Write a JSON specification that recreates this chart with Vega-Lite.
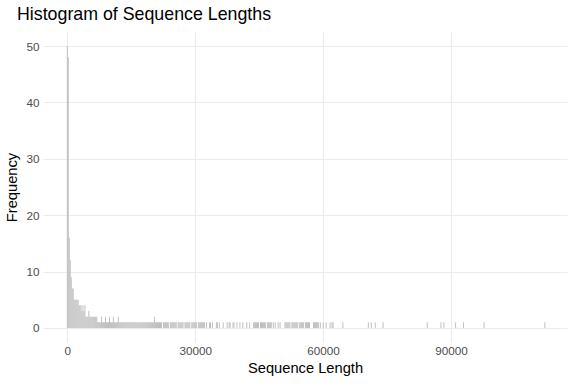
{
  "$schema": "https://vega.github.io/schema/vega-lite/v6.json",
  "width": 524,
  "height": 310,
  "autosize": {"type": "none"},
  "padding": {"left": 43, "top": 32, "right": 9, "bottom": 42},
  "background": "white",
  "config": {
    "font": "Liberation Sans",
    "view": {"stroke": null},
    "axis": {
      "domain": false,
      "ticks": false,
      "gridColor": "#EBEBEB",
      "labelColor": "#4D4D4D",
      "labelFontSize": 11.7,
      "titleFontSize": 14.7,
      "titleFontWeight": "normal",
      "titleColor": "#000000"
    }
  },
  "title": {
    "text": "Histogram of Sequence Lengths",
    "anchor": "start",
    "frame": "group",
    "fontSize": 17.8,
    "fontWeight": "normal",
    "color": "#000000",
    "baseline": "alphabetic",
    "dx": -26,
    "offset": -6
  },
  "data": {
    "values": [
      {"bin_start": -115, "bin_end": 115, "count": 50},
      {"bin_start": 115, "bin_end": 345, "count": 48},
      {"bin_start": 345, "bin_end": 575, "count": 16},
      {"bin_start": 575, "bin_end": 805, "count": 12},
      {"bin_start": 805, "bin_end": 1035, "count": 9},
      {"bin_start": 1035, "bin_end": 1265, "count": 7},
      {"bin_start": 1265, "bin_end": 1495, "count": 7},
      {"bin_start": 1495, "bin_end": 1725, "count": 5},
      {"bin_start": 1725, "bin_end": 1955, "count": 5},
      {"bin_start": 1955, "bin_end": 2185, "count": 5},
      {"bin_start": 2185, "bin_end": 2415, "count": 5},
      {"bin_start": 2415, "bin_end": 2645, "count": 5},
      {"bin_start": 2645, "bin_end": 2875, "count": 4},
      {"bin_start": 2875, "bin_end": 3105, "count": 4},
      {"bin_start": 3105, "bin_end": 3335, "count": 4},
      {"bin_start": 3335, "bin_end": 3565, "count": 3},
      {"bin_start": 3565, "bin_end": 3795, "count": 4},
      {"bin_start": 3795, "bin_end": 4025, "count": 3},
      {"bin_start": 4025, "bin_end": 4255, "count": 4},
      {"bin_start": 4255, "bin_end": 4485, "count": 2},
      {"bin_start": 4485, "bin_end": 4715, "count": 2},
      {"bin_start": 4715, "bin_end": 4945, "count": 2},
      {"bin_start": 4945, "bin_end": 5175, "count": 3},
      {"bin_start": 5175, "bin_end": 5405, "count": 2},
      {"bin_start": 5405, "bin_end": 5635, "count": 2},
      {"bin_start": 5635, "bin_end": 5865, "count": 2},
      {"bin_start": 5865, "bin_end": 6095, "count": 2},
      {"bin_start": 6095, "bin_end": 6325, "count": 2},
      {"bin_start": 6325, "bin_end": 6555, "count": 2},
      {"bin_start": 6555, "bin_end": 6785, "count": 2},
      {"bin_start": 6785, "bin_end": 7015, "count": 2},
      {"bin_start": 7015, "bin_end": 7245, "count": 1},
      {"bin_start": 7245, "bin_end": 7475, "count": 1},
      {"bin_start": 7475, "bin_end": 7705, "count": 1},
      {"bin_start": 7705, "bin_end": 7935, "count": 1},
      {"bin_start": 7935, "bin_end": 8165, "count": 2},
      {"bin_start": 8165, "bin_end": 8395, "count": 1},
      {"bin_start": 8395, "bin_end": 8625, "count": 1},
      {"bin_start": 8625, "bin_end": 8855, "count": 1},
      {"bin_start": 8855, "bin_end": 9085, "count": 2},
      {"bin_start": 9085, "bin_end": 9315, "count": 1},
      {"bin_start": 9315, "bin_end": 9545, "count": 1},
      {"bin_start": 9545, "bin_end": 9775, "count": 1},
      {"bin_start": 9775, "bin_end": 10005, "count": 2},
      {"bin_start": 10005, "bin_end": 10235, "count": 1},
      {"bin_start": 10235, "bin_end": 10465, "count": 1},
      {"bin_start": 10465, "bin_end": 10695, "count": 1},
      {"bin_start": 10695, "bin_end": 10925, "count": 2},
      {"bin_start": 10925, "bin_end": 11155, "count": 1},
      {"bin_start": 11155, "bin_end": 11385, "count": 1},
      {"bin_start": 11385, "bin_end": 11615, "count": 1},
      {"bin_start": 11615, "bin_end": 11845, "count": 1},
      {"bin_start": 11845, "bin_end": 12075, "count": 2},
      {"bin_start": 12075, "bin_end": 12305, "count": 1},
      {"bin_start": 12305, "bin_end": 12535, "count": 1},
      {"bin_start": 12535, "bin_end": 12765, "count": 1},
      {"bin_start": 12765, "bin_end": 12995, "count": 1},
      {"bin_start": 12995, "bin_end": 13225, "count": 1},
      {"bin_start": 13225, "bin_end": 13455, "count": 1},
      {"bin_start": 13455, "bin_end": 13685, "count": 1},
      {"bin_start": 13685, "bin_end": 13915, "count": 1},
      {"bin_start": 13915, "bin_end": 14145, "count": 1},
      {"bin_start": 14145, "bin_end": 14375, "count": 1},
      {"bin_start": 14375, "bin_end": 14605, "count": 1},
      {"bin_start": 14605, "bin_end": 14835, "count": 1},
      {"bin_start": 14835, "bin_end": 15065, "count": 1},
      {"bin_start": 15065, "bin_end": 15295, "count": 1},
      {"bin_start": 15295, "bin_end": 15525, "count": 1},
      {"bin_start": 15525, "bin_end": 15755, "count": 1},
      {"bin_start": 15755, "bin_end": 15985, "count": 1},
      {"bin_start": 15985, "bin_end": 16215, "count": 1},
      {"bin_start": 16215, "bin_end": 16445, "count": 1},
      {"bin_start": 16445, "bin_end": 16675, "count": 1},
      {"bin_start": 16675, "bin_end": 16905, "count": 1},
      {"bin_start": 16905, "bin_end": 17135, "count": 1},
      {"bin_start": 17135, "bin_end": 17365, "count": 1},
      {"bin_start": 17365, "bin_end": 17595, "count": 1},
      {"bin_start": 17595, "bin_end": 17825, "count": 1},
      {"bin_start": 17825, "bin_end": 18055, "count": 1},
      {"bin_start": 18055, "bin_end": 18285, "count": 1},
      {"bin_start": 18285, "bin_end": 18515, "count": 1},
      {"bin_start": 18515, "bin_end": 18745, "count": 1},
      {"bin_start": 18745, "bin_end": 18975, "count": 1},
      {"bin_start": 18975, "bin_end": 19205, "count": 1},
      {"bin_start": 19205, "bin_end": 19435, "count": 1},
      {"bin_start": 19435, "bin_end": 19665, "count": 1},
      {"bin_start": 19665, "bin_end": 19895, "count": 1},
      {"bin_start": 19895, "bin_end": 20125, "count": 1},
      {"bin_start": 20125, "bin_end": 20355, "count": 1},
      {"bin_start": 20355, "bin_end": 20585, "count": 2},
      {"bin_start": 20585, "bin_end": 20815, "count": 1},
      {"bin_start": 20815, "bin_end": 21045, "count": 1},
      {"bin_start": 21045, "bin_end": 21275, "count": 1},
      {"bin_start": 21275, "bin_end": 21505, "count": 1},
      {"bin_start": 21505, "bin_end": 21735, "count": 1},
      {"bin_start": 21735, "bin_end": 21965, "count": 1},
      {"bin_start": 21965, "bin_end": 22195, "count": 1},
      {"bin_start": 22425, "bin_end": 22655, "count": 1},
      {"bin_start": 22655, "bin_end": 22885, "count": 1},
      {"bin_start": 22885, "bin_end": 23115, "count": 1},
      {"bin_start": 23115, "bin_end": 23345, "count": 1},
      {"bin_start": 23345, "bin_end": 23575, "count": 1},
      {"bin_start": 23575, "bin_end": 23805, "count": 1},
      {"bin_start": 24035, "bin_end": 24265, "count": 1},
      {"bin_start": 24265, "bin_end": 24495, "count": 1},
      {"bin_start": 24495, "bin_end": 24725, "count": 1},
      {"bin_start": 24725, "bin_end": 24955, "count": 1},
      {"bin_start": 24955, "bin_end": 25185, "count": 1},
      {"bin_start": 25185, "bin_end": 25415, "count": 1},
      {"bin_start": 25415, "bin_end": 25645, "count": 1},
      {"bin_start": 25875, "bin_end": 26105, "count": 1},
      {"bin_start": 26105, "bin_end": 26335, "count": 1},
      {"bin_start": 26335, "bin_end": 26565, "count": 1},
      {"bin_start": 26565, "bin_end": 26795, "count": 1},
      {"bin_start": 26795, "bin_end": 27025, "count": 1},
      {"bin_start": 27025, "bin_end": 27255, "count": 1},
      {"bin_start": 27485, "bin_end": 27715, "count": 1},
      {"bin_start": 27715, "bin_end": 27945, "count": 1},
      {"bin_start": 27945, "bin_end": 28175, "count": 1},
      {"bin_start": 28175, "bin_end": 28405, "count": 1},
      {"bin_start": 28405, "bin_end": 28635, "count": 1},
      {"bin_start": 28635, "bin_end": 28865, "count": 1},
      {"bin_start": 29095, "bin_end": 29325, "count": 1},
      {"bin_start": 29325, "bin_end": 29555, "count": 1},
      {"bin_start": 29555, "bin_end": 29785, "count": 1},
      {"bin_start": 29785, "bin_end": 30015, "count": 1},
      {"bin_start": 30015, "bin_end": 30245, "count": 1},
      {"bin_start": 30245, "bin_end": 30475, "count": 1},
      {"bin_start": 30705, "bin_end": 30935, "count": 1},
      {"bin_start": 30935, "bin_end": 31165, "count": 1},
      {"bin_start": 31165, "bin_end": 31395, "count": 1},
      {"bin_start": 31395, "bin_end": 31625, "count": 1},
      {"bin_start": 31625, "bin_end": 31855, "count": 1},
      {"bin_start": 31855, "bin_end": 32085, "count": 1},
      {"bin_start": 32085, "bin_end": 32315, "count": 1},
      {"bin_start": 32545, "bin_end": 32775, "count": 1},
      {"bin_start": 33235, "bin_end": 33465, "count": 1},
      {"bin_start": 33465, "bin_end": 33695, "count": 1},
      {"bin_start": 33925, "bin_end": 34155, "count": 1},
      {"bin_start": 34845, "bin_end": 35075, "count": 1},
      {"bin_start": 35075, "bin_end": 35305, "count": 1},
      {"bin_start": 35535, "bin_end": 35765, "count": 1},
      {"bin_start": 36455, "bin_end": 36685, "count": 1},
      {"bin_start": 37375, "bin_end": 37605, "count": 1},
      {"bin_start": 37835, "bin_end": 38065, "count": 1},
      {"bin_start": 38065, "bin_end": 38295, "count": 1},
      {"bin_start": 38755, "bin_end": 38985, "count": 1},
      {"bin_start": 38985, "bin_end": 39215, "count": 1},
      {"bin_start": 39675, "bin_end": 39905, "count": 1},
      {"bin_start": 40365, "bin_end": 40595, "count": 1},
      {"bin_start": 41055, "bin_end": 41285, "count": 1},
      {"bin_start": 41975, "bin_end": 42205, "count": 1},
      {"bin_start": 42665, "bin_end": 42895, "count": 1},
      {"bin_start": 43585, "bin_end": 43815, "count": 1},
      {"bin_start": 43815, "bin_end": 44045, "count": 1},
      {"bin_start": 44045, "bin_end": 44275, "count": 1},
      {"bin_start": 44275, "bin_end": 44505, "count": 1},
      {"bin_start": 44505, "bin_end": 44735, "count": 1},
      {"bin_start": 44735, "bin_end": 44965, "count": 1},
      {"bin_start": 45195, "bin_end": 45425, "count": 1},
      {"bin_start": 45425, "bin_end": 45655, "count": 1},
      {"bin_start": 45655, "bin_end": 45885, "count": 1},
      {"bin_start": 45885, "bin_end": 46115, "count": 1},
      {"bin_start": 46115, "bin_end": 46345, "count": 1},
      {"bin_start": 46345, "bin_end": 46575, "count": 1},
      {"bin_start": 46805, "bin_end": 47035, "count": 1},
      {"bin_start": 47035, "bin_end": 47265, "count": 1},
      {"bin_start": 47265, "bin_end": 47495, "count": 1},
      {"bin_start": 47495, "bin_end": 47725, "count": 1},
      {"bin_start": 47725, "bin_end": 47955, "count": 1},
      {"bin_start": 48185, "bin_end": 48415, "count": 1},
      {"bin_start": 48645, "bin_end": 48875, "count": 1},
      {"bin_start": 49335, "bin_end": 49565, "count": 1},
      {"bin_start": 49795, "bin_end": 50025, "count": 1},
      {"bin_start": 50945, "bin_end": 51175, "count": 1},
      {"bin_start": 51175, "bin_end": 51405, "count": 1},
      {"bin_start": 51405, "bin_end": 51635, "count": 1},
      {"bin_start": 51635, "bin_end": 51865, "count": 1},
      {"bin_start": 51865, "bin_end": 52095, "count": 1},
      {"bin_start": 52095, "bin_end": 52325, "count": 1},
      {"bin_start": 52555, "bin_end": 52785, "count": 1},
      {"bin_start": 52785, "bin_end": 53015, "count": 1},
      {"bin_start": 53015, "bin_end": 53245, "count": 1},
      {"bin_start": 53245, "bin_end": 53475, "count": 1},
      {"bin_start": 53475, "bin_end": 53705, "count": 1},
      {"bin_start": 53705, "bin_end": 53935, "count": 1},
      {"bin_start": 53935, "bin_end": 54165, "count": 1},
      {"bin_start": 54395, "bin_end": 54625, "count": 1},
      {"bin_start": 54625, "bin_end": 54855, "count": 1},
      {"bin_start": 54855, "bin_end": 55085, "count": 1},
      {"bin_start": 55085, "bin_end": 55315, "count": 1},
      {"bin_start": 55315, "bin_end": 55545, "count": 1},
      {"bin_start": 55775, "bin_end": 56005, "count": 1},
      {"bin_start": 56005, "bin_end": 56235, "count": 1},
      {"bin_start": 56235, "bin_end": 56465, "count": 1},
      {"bin_start": 56465, "bin_end": 56695, "count": 1},
      {"bin_start": 56695, "bin_end": 56925, "count": 1},
      {"bin_start": 57615, "bin_end": 57845, "count": 1},
      {"bin_start": 57845, "bin_end": 58075, "count": 1},
      {"bin_start": 58075, "bin_end": 58305, "count": 1},
      {"bin_start": 58305, "bin_end": 58535, "count": 1},
      {"bin_start": 58535, "bin_end": 58765, "count": 1},
      {"bin_start": 58765, "bin_end": 58995, "count": 1},
      {"bin_start": 59225, "bin_end": 59455, "count": 1},
      {"bin_start": 59915, "bin_end": 60145, "count": 1},
      {"bin_start": 60605, "bin_end": 60835, "count": 1},
      {"bin_start": 61525, "bin_end": 61755, "count": 1},
      {"bin_start": 61985, "bin_end": 62215, "count": 1},
      {"bin_start": 62215, "bin_end": 62445, "count": 1},
      {"bin_start": 64515, "bin_end": 64745, "count": 1},
      {"bin_start": 70495, "bin_end": 70725, "count": 1},
      {"bin_start": 71185, "bin_end": 71415, "count": 1},
      {"bin_start": 72105, "bin_end": 72335, "count": 1},
      {"bin_start": 73945, "bin_end": 74175, "count": 1},
      {"bin_start": 84295, "bin_end": 84525, "count": 1},
      {"bin_start": 87515, "bin_end": 87745, "count": 1},
      {"bin_start": 88205, "bin_end": 88435, "count": 1},
      {"bin_start": 90965, "bin_end": 91195, "count": 1},
      {"bin_start": 92805, "bin_end": 93035, "count": 1},
      {"bin_start": 97635, "bin_end": 97865, "count": 1},
      {"bin_start": 111895, "bin_end": 112125, "count": 1}
    ]
  },
  "layer": [
    {
      "mark": {"type": "bar", "color": "#BEBEBE"},
      "encoding": {
        "x": {
          "field": "bin_start",
          "type": "quantitative",
          "scale": {"domain": [-5700, 117200], "nice": false, "zero": false},
          "axis": {"values": [0, 30000, 60000, 90000], "format": "d", "title": "Sequence Length", "gridWidth": 1.07, "labelPadding": 3, "titlePadding": 4}
        },
        "x2": {"field": "bin_end"},
        "y": {
          "field": "count",
          "type": "quantitative",
          "scale": {"domain": [-2.5, 52.5], "nice": false, "zero": false},
          "axis": {"values": [0, 10, 20, 30, 40, 50], "title": "Frequency", "gridWidth": 1.07, "labelPadding": 4, "titlePadding": 6}
        },
        "y2": {"datum": 0}
      }
    },
    {
      "mark": {"type": "bar", "opacity": 0},
      "encoding": {
        "x": {
          "field": "bin_start",
          "type": "quantitative",
          "scale": {"domain": [-5700, 117200], "nice": false, "zero": false},
          "axis": {"values": [15000, 45000, 75000, 105000], "labels": false, "title": null, "gridWidth": 0.55}
        },
        "x2": {"field": "bin_end"},
        "y": {
          "field": "count",
          "type": "quantitative",
          "scale": {"domain": [-2.5, 52.5], "nice": false, "zero": false},
          "axis": {"values": [5, 15, 25, 35, 45], "labels": false, "title": null, "gridWidth": 0.55}
        },
        "y2": {"datum": 0}
      }
    }
  ],
  "resolve": {"axis": {"x": "independent", "y": "independent"}}
}
